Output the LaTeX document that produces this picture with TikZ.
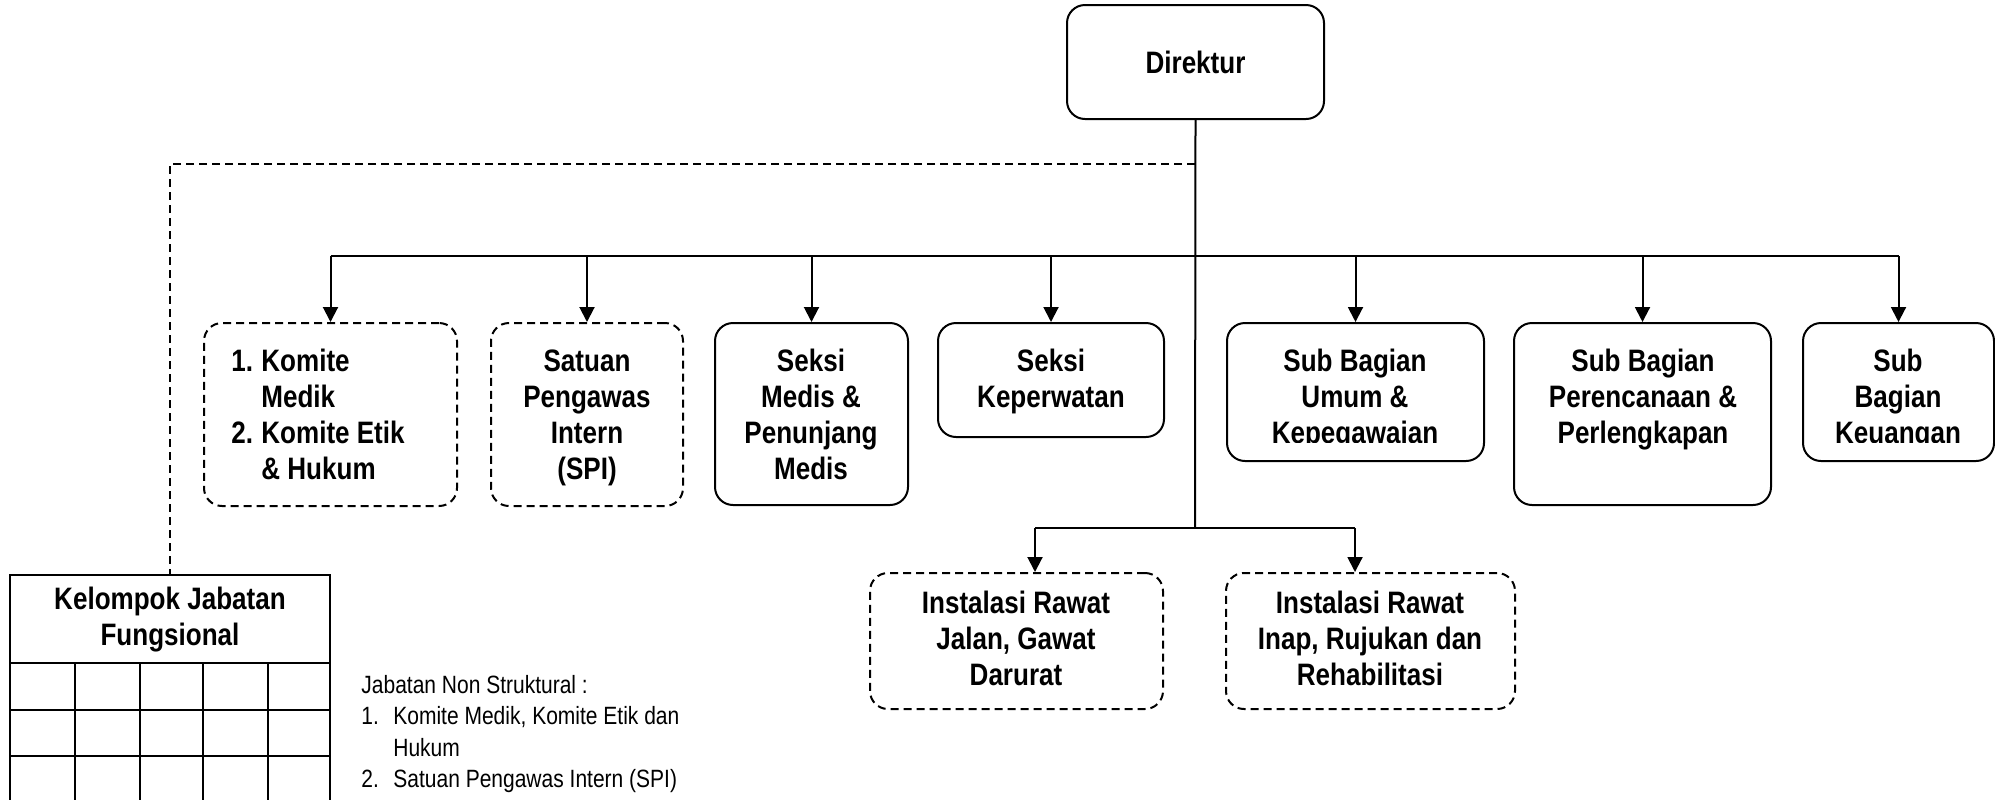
\documentclass[tikz,border=0pt]{standalone}
\usepackage{fontspec}
\setmainfont{Liberation Sans}[FakeStretch=0.84]
\usetikzlibrary{arrows.meta,fit}
\begin{document}
\begin{tikzpicture}[x=0.5pt,y=-0.5pt,
 box/.style={draw, line width=1pt, rounded corners=9pt, inner sep=0pt},
 dbox/.style={box, dash pattern=on 4pt off 2.5pt},
 sqbox/.style={draw, line width=1pt, inner sep=0pt},
 lbl/.style={font=\bfseries\fontsize{15.5}{18}\selectfont, align=center, inner sep=0pt},
 conn/.style={line width=1pt},
 arr/.style={conn, -{Triangle[length=7.5pt,width=7.5pt]}},
 dconn/.style={conn, dash pattern=on 4pt off 2.5pt},
 cell/.style={line width=1pt},
 note/.style={font=\fontsize{12.5}{15.65}\selectfont, align=left, inner sep=0pt, anchor=north west}
]
\useasboundingbox (0,0) rectangle (1995,799);
\clip (0,0) rectangle (1995,799);

% boxes
\node[box, fit={(1067,5) (1324,119)}] (dir) {};
\node[dbox, fit={(204,323) (457,506)}] (b1) {};
\node[dbox, fit={(491,323) (683,506)}] (b2) {};
\node[box, fit={(715,323) (908,505)}] (b3) {};
\node[box, fit={(938,323) (1164,437)}] (b4) {};
\node[box, fit={(1227,323) (1484,461)}] (b5) {};
\node[box, fit={(1514,323) (1771,505)}] (b6) {};
\node[box, fit={(1803,323) (1994,461)}] (b7) {};
\node[dbox, fit={(870,573) (1163,709)}] (i1) {};
\node[dbox, fit={(1226,573) (1515,709)}] (i2) {};
\node[sqbox, fit={(10,575) (330,812)}] (kel) {};

% texts
\node[lbl] (tdir) at (dir.center) {Direktur};
\node[lbl, align=left, anchor=north west] (t1) at (231,349)
 {\makebox[15pt][l]{1.}Komite\\\hspace*{15pt}Medik\\\makebox[15pt][l]{2.}Komite Etik\\\hspace*{15pt}\& Hukum};
\node[lbl, anchor=north] (t2) at (587,349) {Satuan\\Pengawas\\Intern\\(SPI)};
\node[lbl, anchor=north] (t3) at (811,349) {Seksi\\Medis \&\\Penunjang\\Medis};
\node[lbl, anchor=north] (t4) at (1051,349) {Seksi\\Keperwatan};
\begin{scope}
\clip (1227,330) rectangle (1484,442);
\node[lbl, anchor=north] (t5) at (1355,349) {Sub Bagian\\Umum \&\\Kepegawaian};
\end{scope}
\node[lbl, anchor=north] (t6) at (1643,349) {Sub Bagian\\Perencanaan \&\\Perlengkapan};
\begin{scope}
\clip (1803,330) rectangle (1994,442);
\node[lbl, anchor=north] (t7) at (1898,349) {Sub\\Bagian\\Keuangan};
\end{scope}
\node[lbl] (ti1) at (1016,638) {Instalasi Rawat\\Jalan, Gawat\\Darurat};
\node[lbl] (ti2) at (1370,638) {Instalasi Rawat\\Inap, Rujukan dan\\Rehabilitasi};
\node[lbl] (tkel) at (170,620) {Kelompok Jabatan\\Fungsional};
\node[note] (nt) at (361,675)
 {Jabatan Non Struktural :\\
 \makebox[16pt][l]{1.}Komite Medik, Komite Etik dan\\
 \hspace*{16pt}Hukum\\
 \makebox[16pt][l]{2.}Satuan Pengawas Intern (SPI)};

% grid of Kelompok box
\draw[cell] (10,663) -- (330,663);
\draw[cell] (10,710) -- (330,710);
\draw[cell] (10,756) -- (330,756);
\foreach \cx in {75,140,203,268} \draw[cell] (\cx,663) -- (\cx,812);

% connectors
\coordinate (dj) at (1195,164);
\coordinate (bus) at (1195,256);
\coordinate (br) at (1195,528);
\coordinate (j1) at (1035,528);
\coordinate (j2) at (1355,528);
\draw[conn] (dir.south) -- (br);
\draw[dconn] (dj) -| (kel.north);
\draw[conn] (b1.north |- bus) -- (b7.north |- bus);
\foreach \b in {b1,b2,b3,b4,b5,b6,b7}
  \draw[arr] (\b.north |- bus) -- (\b.north);
\draw[conn] (j1) -- (j2);
\draw[arr] (j1) -- (j1 |- i1.north);
\draw[arr] (j2) -- (j2 |- i2.north);
\end{tikzpicture}
\end{document}
